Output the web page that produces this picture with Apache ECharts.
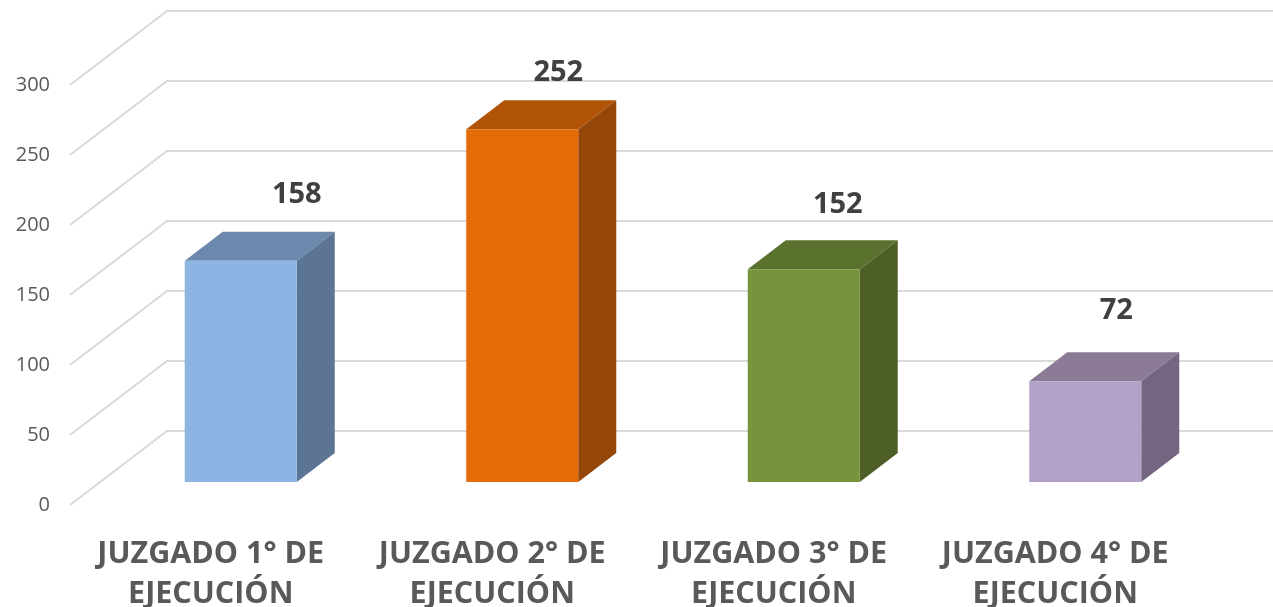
<!DOCTYPE html>
<html>
<head>
<meta charset="utf-8">
<style>html,body{margin:0;padding:0;background:#fff}#boot{width:1273px;height:607px}</style>
<script src="https://cdn.jsdelivr.net/npm/echarts@6/dist/echarts.min.js"></script>
</head>
<body>
<div id="boot"></div>
<script>
var categories = ['JUZGADO 1° DE\nEJECUCIÓN', 'JUZGADO 2° DE\nEJECUCIÓN', 'JUZGADO 3° DE\nEJECUCIÓN', 'JUZGADO 4° DE\nEJECUCIÓN'];
var values = [158, 252, 152, 72];
var yTicks = [0, 50, 100, 150, 200, 250, 300];

// front / top / side colour of each bar
var faceColors = [
    ['#8db4e3', '#6c88ad', '#5c7595'],
    ['#e36c09', '#b15407', '#944708'],
    ['#77933c', '#5b722e', '#4d5f27'],
    ['#b3a2c7', '#8b7b97', '#746680']
];
// where the value labels sit, relative to the bar's front top centre
var labelShift = [[56, -66], [36, -56], [34, -64], [31, -70]];

var wallDepth = [97, -74];
var barFront = [30, -23];
var barDepth = [38, -29];
var barHalf = 56;
var fontName = '"Open Sans", sans-serif';

var myChart = echarts.init(document.getElementById('boot'));

function renderWall(params, api) {
    var sys = params.coordSys;
    var y = api.coord([0, api.value(1)])[1];
    return {
        type: 'polyline',
        shape: {
            points: [
                [sys.x, y],
                [sys.x + wallDepth[0], y + wallDepth[1]],
                [sys.x + wallDepth[0] + sys.width, y + wallDepth[1]]
            ]
        },
        style: { stroke: '#d9d9d9', lineWidth: 2, fill: null }
    };
}

function renderBar(params, api) {
    var i = api.value(0);
    var val = api.value(1);
    var top = api.coord([i, val]);
    var base = api.coord([i, 0]);
    var colors = faceColors[i];
    var l = top[0] + barFront[0] - barHalf;
    var r = top[0] + barFront[0] + barHalf;
    var t = top[1] + barFront[1];
    var b = base[1] + barFront[1];
    var dx = barDepth[0], dy = barDepth[1];
    return {
        type: 'group',
        children: [{
            type: 'polygon',
            shape: { points: [[l, t], [r, t], [r + dx, t + dy], [l + dx, t + dy]] },
            style: { fill: colors[1] }
        }, {
            type: 'polygon',
            shape: { points: [[r, t], [r + dx, t + dy], [r + dx, b + dy], [r, b]] },
            style: { fill: colors[2] }
        }, {
            type: 'rect',
            shape: { x: l, y: t, width: r - l, height: b - t },
            style: { fill: colors[0] }
        }, {
            type: 'text',
            style: {
                text: String(val),
                x: (l + r) / 2 + labelShift[i][0],
                y: t + labelShift[i][1],
                fill: '#404040',
                font: 'bold 29px ' + fontName,
                align: 'center',
                verticalAlign: 'middle'
            }
        }]
    };
}

var option = {
    animation: false,
    grid: { left: 70, top: 85, width: 1126, height: 420, outerBoundsMode: 'none' },
    xAxis: {
        type: 'category',
        data: categories,
        axisLine: { show: false },
        axisTick: { show: false },
        axisLabel: {
            interval: 0,
            margin: 29,
            color: '#595959',
            fontFamily: fontName,
            fontWeight: 'bold',
            fontSize: 30.5,
            lineHeight: 40
        }
    },
    yAxis: {
        type: 'value',
        min: 0,
        max: 300,
        interval: 50,
        axisLine: { show: false },
        axisTick: { show: false },
        splitLine: { show: false },
        axisLabel: { margin: 20, color: '#595959', fontFamily: fontName, fontSize: 20 }
    },
    series: [{
        type: 'custom',
        renderItem: renderWall,
        silent: true,
        clip: false,
        z: 1,
        data: yTicks.map(function (v) { return [0, v]; })
    }, {
        type: 'custom',
        renderItem: renderBar,
        clip: false,
        z: 2,
        encode: { x: 0, y: 1 },
        data: values.map(function (v, i) { return [i, v]; })
    }]
};
myChart.setOption(option);
</script>
</body>
</html>
